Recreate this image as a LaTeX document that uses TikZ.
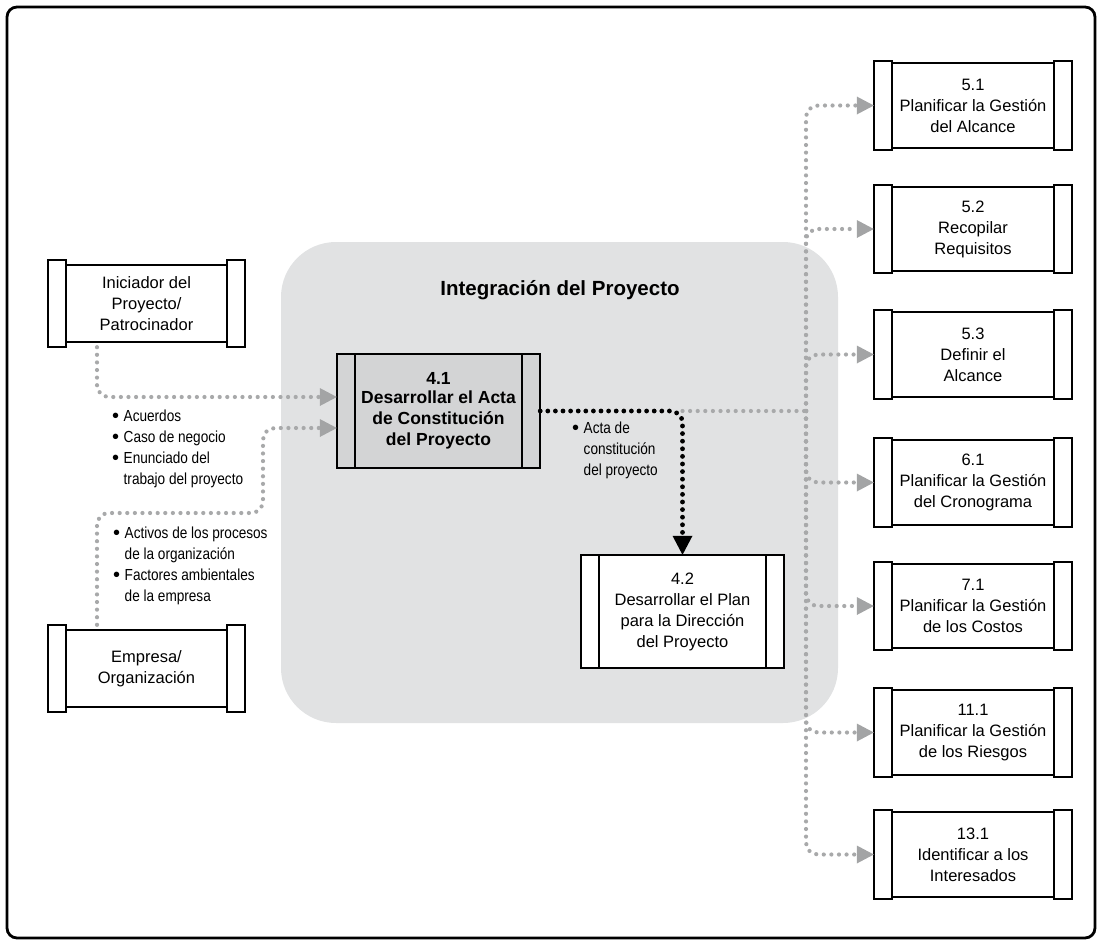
\documentclass[tikz,border=0pt]{standalone}
\usepackage{fontspec}
\setmainfont{Liberation Sans}
\newfontfamily\condf[FakeStretch=0.85]{Liberation Sans}
\usetikzlibrary{arrows.meta}
\definecolor{regionbg}{HTML}{E1E2E3}
\definecolor{boxgray}{HTML}{D3D4D5}
\definecolor{dotgray}{HTML}{A8A9AA}
\definecolor{tipgray}{HTML}{A3A4A5}
\newcommand\sidebars[3]{%
  \draw[boxline] (#1.south west) rectangle ([xshift=#2]#1.north west);
  \draw[boxline] (#1.south east) rectangle ([xshift=-#2]#1.north east);
  \draw[boxline] ([xshift=#2,yshift=#3]#1.south west) -- ([xshift=-#2,yshift=#3]#1.south east);
  \draw[boxline] ([xshift=#2,yshift=-#3]#1.north west) -- ([xshift=-#2,yshift=-#3]#1.north east);
}
\newcommand\bl{\makebox[11.5pt][l]{{\rmfamily\fontsize{20}{20}\selectfont\raisebox{-1.2pt}{•}}}}
\begin{document}
\begin{tikzpicture}[x=1pt,y=-1pt,
  boxline/.style={line width=2pt, line join=miter},
  procbox/.style={inner sep=0pt, align=center, fill=white, font=\fontsize{16.5}{21}\selectfont},
  leftbox/.style={procbox, minimum width=197pt, minimum height=87pt},
  rightbox/.style={procbox, minimum width=198pt, minimum height=88pt},
  midbox/.style={procbox, minimum width=203pt, minimum height=114pt},
  lbl/.style={inner sep=0pt, align=left, font=\condf\fontsize{16}{21}\selectfont},
  gdot/.style={draw=dotgray, line width=4.2pt, line cap=round, dash pattern=on 0pt off 7.6pt, rounded corners=12pt,
    -{Triangle[length=17pt,width=18pt,line width=0pt,color=tipgray]}},
  gline/.style={draw=dotgray, line width=4.2pt, line cap=round, dash pattern=on 0pt off 7.6pt},
  bdot/.style={draw=black, line width=4.8pt, line cap=round, dash pattern=on 0pt off 7.6pt, rounded corners=12pt,
    -{Triangle[length=19pt,width=20pt,line width=0pt,color=black]}}
]
\useasboundingbox (0,0) rectangle (1102,945);
\draw[line width=2.8pt, rounded corners=10pt] (7,7) rectangle (1095,938);
% region
\fill[regionbg, rounded corners=55pt] (281,242) rectangle (838,723);
\node[font=\bfseries\fontsize{20.5}{24}\selectfont] (title) at (560,290) {Integración del Proyecto};
% left boxes
\node[leftbox] (init) at (146.5,303.5) {Iniciador del\\Proyecto/\\Patrocinador};
\sidebars{init}{18pt}{5pt}
\node[leftbox] (emp) at (146.5,668.5) {Empresa/\\Organización};
\sidebars{emp}{18pt}{5pt}
% center boxes
\node[midbox, fill=boxgray, font=\bfseries\fontsize{17.5}{21}\selectfont] (a41) at (438.5,411) {\raisebox{-2pt}{4.1}\\Desarrollar el Acta\\de Constitución\\del Proyecto};
\sidebars{a41}{18pt}{0pt}
\node[midbox, minimum height=113pt] (a42) at (682.5,611.5) {4.2\\Desarrollar el Plan\\para la Dirección\\del Proyecto};
\sidebars{a42}{18pt}{0pt}
% right boxes
\node[rightbox] (b51) at (973,105.5) {5.1\\Planificar la Gestión\\del Alcance};
\sidebars{b51}{18.5pt}{2pt}
\node[rightbox] (b52) at (973,229) {5.2\\Recopilar\\Requisitos};
\sidebars{b52}{18.5pt}{2pt}
\node[rightbox] (b53) at (973,354.5) {5.3\\Definir el\\Alcance};
\sidebars{b53}{18.5pt}{2pt}
\node[rightbox] (b61) at (973,482.5) {6.1\\Planificar la Gestión\\del Cronograma};
\sidebars{b61}{18.5pt}{2pt}
\node[rightbox] (b71) at (973,606) {7.1\\Planificar la Gestión\\de los Costos};
\sidebars{b71}{18.5pt}{2pt}
\node[rightbox] (b111) at (973,732.5) {11.1\\Planificar la Gestión\\de los Riesgos};
\sidebars{b111}{18.5pt}{2pt}
\node[rightbox] (b131) at (973,854.5) {13.1\\Identificar a los\\Interesados};
\sidebars{b131}{18.5pt}{2pt}
% labels
\node[lbl, anchor=west] (lab1) at (112,449) {\bl Acuerdos\\\bl Caso de negocio\\\bl Enunciado del\\\hphantom{\bl}trabajo del proyecto};
\node[lbl, anchor=west] (lab2) at (113,565.5) {\bl Activos de los procesos\\\hphantom{\bl}de la organización\\\bl Factores ambientales\\\hphantom{\bl}de la empresa};
\node[lbl, anchor=west] (lab3) at (572,450) {\bl Acta de\\\hphantom{\bl}constitución\\\hphantom{\bl}del proyecto};
% connectors
\coordinate (lx) at (97,0);
\draw[gdot] (lx |- init.south) |- ([yshift=14pt]a41.west);
\coordinate (e1) at (97,513);
\coordinate (e2) at (263,513);
\draw[gdot] (lx |- emp.north) -- (e1) -- (e2) |- ([yshift=-17pt]a41.west);
\coordinate (j) at (806,411);
\draw[gline] (a42.north |- a41.east) -- (j);
\draw[bdot] (a41.east) -| (a42.north);
\foreach \b in {b51,b52,b53,b61,b71,b111,b131}
  \draw[gdot] (j) |- (\b.west);
\end{tikzpicture}
\end{document}
